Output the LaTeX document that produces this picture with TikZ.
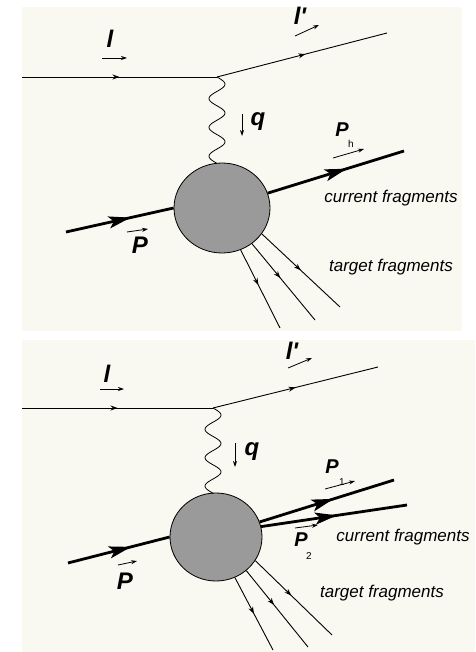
\documentclass[tikz,border=0pt]{standalone}
\usepackage{fontspec}
\setmainfont{Liberation Sans}
\usetikzlibrary{arrows.meta,decorations.markings,shapes.geometric}
\definecolor{panelbg}{HTML}{F9F9F2}
\definecolor{blobgray}{HTML}{9A9A9A}
\tikzset{
  thinline/.style={line width=0.9pt},
  thickline/.style={line width=2.8pt},
  midarrow/.style={postaction={decorate,decoration={markings,mark=at position #1 with {\arrow{Stealth[length=7pt,width=5pt]}}}}},
  bigarrow/.style={postaction={decorate,decoration={markings,mark=at position #1 with {\arrow{Stealth[length=22pt,width=12pt,inset=5pt]}}}}},
  vecarrow/.style={line width=0.8pt,-{Stealth[length=6pt,width=4pt]}},
  wave/.style={line width=0.8pt},
  blob/.style={ellipse,draw,line width=0.8pt,fill=blobgray,inner sep=0pt},
  biglabel/.style={font=\fontsize{24}{26}\selectfont\bfseries\itshape,inner sep=0pt},
  midlabel/.style={font=\fontsize{20}{22}\selectfont\bfseries\itshape,inner sep=0pt},
  sublabel/.style={font=\fontsize{10}{11}\selectfont,inner sep=0pt},
  textlabel/.style={font=\fontsize{17}{19}\selectfont\itshape,inner sep=0pt},
}
\begin{document}
\begin{tikzpicture}[x=1pt,y=-1pt]
\useasboundingbox (0,0) rectangle (475,652);
\fill[white] (0,0) rectangle (475,652);
% ---------------- Panel 1 ----------------
\fill[panelbg] (22,7) rectangle (462,331);
\coordinate (lin1) at (22,77);
\coordinate (v1) at (217,77);
\coordinate (lout1) at (387,33);
\node[blob,minimum width=96pt,minimum height=90pt] (b1) at (222,208) {};
\coordinate (pin1) at (66,232);
\coordinate (ph1) at (404,151);
\coordinate (t1a) at (280,328);
\coordinate (t1b) at (315,320);
\coordinate (t1c) at (340,307);
\draw[thinline,midarrow=0.5] (lin1) -- (v1);
\draw[thinline,midarrow=0.52] (v1) -- (lout1);
\draw[wave] plot[smooth,domain=0:86.4,samples=73] ({217+8*sin(\x/28.8*360)},{77+\x});
\draw[thickline,bigarrow=0.6] (pin1) -- (b1.west);
\draw[thickline,bigarrow=0.58] (b1.18) -- (ph1);
\draw[thinline,midarrow=0.45] (b1.-66) -- (t1a);
\draw[thinline,midarrow=0.45] (b1.-50) -- (t1b);
\draw[thinline,midarrow=0.5] (b1.-33) -- (t1c);
% labels
\node[biglabel] (l1) at (110,39) {l};
\coordinate (la1) at (102,58); \coordinate (lb1) at (127,58);
\draw[vecarrow] (la1) -- (lb1);
\node[biglabel] (lp1) at (300,16) {l\textquotesingle};
\coordinate (lpa1) at (295,36); \coordinate (lpb1) at (319,25);
\draw[vecarrow] (lpa1) -- (lpb1);
\node[biglabel] (q1) at (258,122) {q};
\coordinate (qa1) at (242,114); \coordinate (qb1) at (242,136);
\draw[vecarrow] (qa1) -- (qb1);
\node[midlabel] (Ph) at (342,130) {P};
\node[sublabel] (h1) at (351,144) {h};
\coordinate (pha) at (333,158); \coordinate (phb) at (364,149);
\draw[vecarrow] (pha) -- (phb);
\node[biglabel] (P1) at (140,245) {P};
\coordinate (pa1) at (127,232); \coordinate (pb1) at (148,229);
\draw[vecarrow] (pa1) -- (pb1);
\node[textlabel] (cf1) at (391,198) {current fragments};
\node[textlabel] (tf1) at (391,267) {target fragments};
% ---------------- Panel 2 ----------------
\fill[panelbg] (22,340) rectangle (475,652);
\coordinate (lin2) at (22,408);
\coordinate (v2) at (213,408);
\coordinate (lout2) at (378,367);
\node[blob,minimum width=92pt,minimum height=88pt] (b2) at (216,537) {};
\coordinate (pin2) at (68,563);
\coordinate (p1e) at (394,480);
\coordinate (p2e) at (407,505);
\coordinate (t2a) at (273,650);
\coordinate (t2b) at (308,647);
\coordinate (t2c) at (332,635);
\draw[thinline,midarrow=0.5] (lin2) -- (v2);
\draw[thinline,midarrow=0.5] (v2) -- (lout2);
\draw[wave] plot[smooth,domain=0:85.2,samples=73] ({213+8*sin(\x/28.4*360)},{408+\x});
\draw[thickline,bigarrow=0.62] (pin2) -- (b2.west);
\draw[thickline,bigarrow=0.55] (b2.19) -- (p1e);
\draw[thickline,bigarrow=0.52] (b2.13) -- (p2e);
\draw[thinline,midarrow=0.5] (b2.-65) -- (t2a);
\draw[thinline,midarrow=0.45] (b2.-48) -- (t2b);
\draw[thinline,midarrow=0.47] (b2.-31) -- (t2c);
% labels
\node[biglabel] (l2) at (107,374) {l};
\coordinate (la2) at (100,389); \coordinate (lb2) at (124,389);
\draw[vecarrow] (la2) -- (lb2);
\node[biglabel] (lp2) at (292,351) {l\textquotesingle};
\coordinate (lpa2) at (288,368); \coordinate (lpb2) at (312,358);
\draw[vecarrow] (lpa2) -- (lpb2);
\node[biglabel] (q2) at (252,452) {q};
\coordinate (qa2) at (235,443); \coordinate (qb2) at (235,467);
\draw[vecarrow] (qa2) -- (qb2);
\node[midlabel] (Pone) at (332,467) {P};
\node[sublabel] (s1) at (342,482) {1};
\coordinate (p1a) at (325,489); \coordinate (p1b) at (355,481);
\draw[vecarrow] (p1a) -- (p1b);
\node[midlabel] (Ptwo) at (301,540) {P};
\node[sublabel] (s2) at (309,556) {2};
\coordinate (p2a) at (295,528); \coordinate (p2b) at (318,525);
\draw[vecarrow] (p2a) -- (p2b);
\node[biglabel] (P2) at (125,581) {P};
\coordinate (pa2) at (118,565); \coordinate (pb2) at (137,561);
\draw[vecarrow] (pa2) -- (pb2);
\node[textlabel] (cf2) at (403,537) {current fragments};
\node[textlabel] (tf2) at (382,593) {target fragments};
\end{tikzpicture}
\end{document}
